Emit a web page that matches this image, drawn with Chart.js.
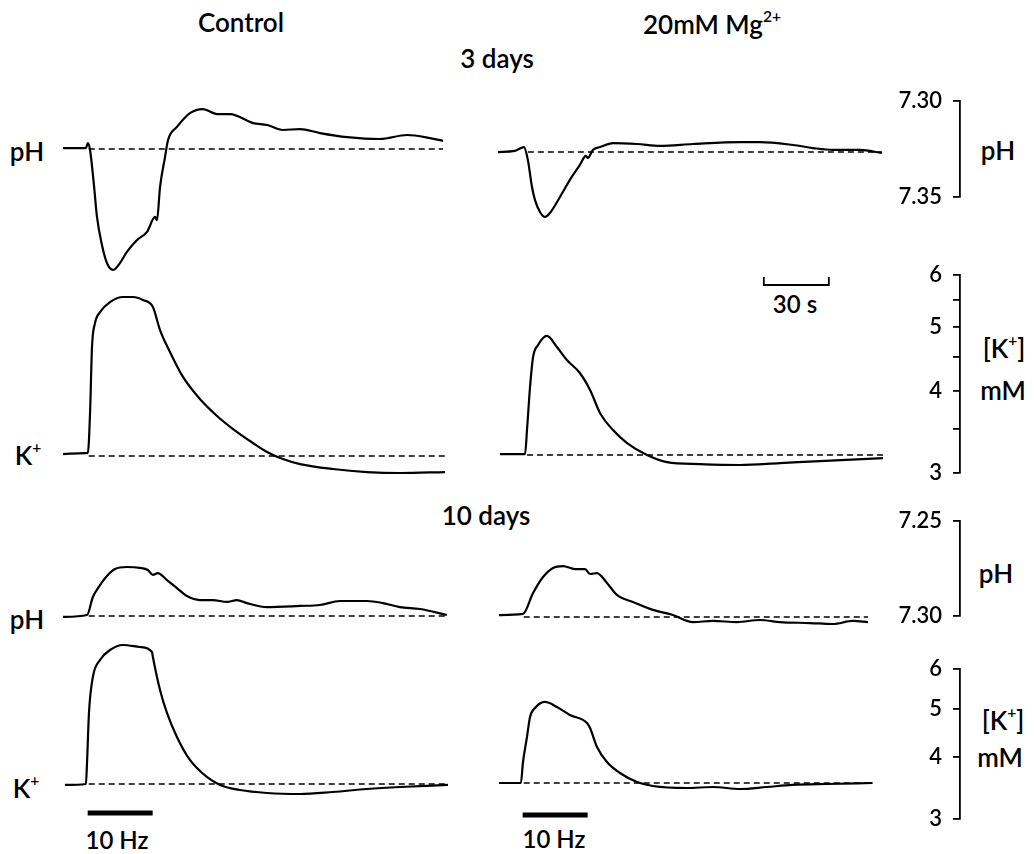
<!DOCTYPE html>
<html lang="en">
<head>
  <meta charset="UTF-8">
  <title>pH and K+ transients, control vs 20mM Mg2+</title>
  <script src="https://cdn.jsdelivr.net/npm/chart.js"></script>
  <style>
    body { margin: 0; background: #fff; width: 1034px; height: 854px; position: relative; overflow: hidden;
           font-family: Lato, 'DejaVu Sans', sans-serif; font-weight: 600; color: #000; }
    canvas { position: absolute; }
    .lbl { position: absolute; transform: translate(-50%, -50%); white-space: nowrap; line-height: 1; font-size: 23px; }
    .lbl sup { font-size: 0.6em; vertical-align: 0.75em; line-height: 0; }
    .big { font-size: 26px; }
    .small { font-size: 24px; }
  </style>
</head>
<body>

  <div class="lbl big" style="left:241px;top:22px">Control</div>
  <div class="lbl big" style="left:712px;top:24px">20mM Mg<sup>2+</sup></div>
  <div class="lbl big" style="left:497px;top:58px">3 days</div>
  <div class="lbl big" style="left:486px;top:515px">10 days</div>

  <div class="lbl big" style="left:27px;top:151px">pH</div>
  <div class="lbl big" style="left:28px;top:455px">K<sup>+</sup></div>
  <div class="lbl big" style="left:27px;top:619px">pH</div>
  <div class="lbl big" style="left:26px;top:788px">K<sup>+</sup></div>

  <div class="lbl big" style="left:998px;top:150px">pH</div>
  <div class="lbl big" style="left:1004px;top:348px">[K<sup>+</sup>]</div>
  <div class="lbl big" style="left:1003px;top:390px">mM</div>
  <div class="lbl big" style="left:996px;top:573px">pH</div>
  <div class="lbl big" style="left:1003px;top:720px">[K<sup>+</sup>]</div>
  <div class="lbl big" style="left:1000px;top:757px">mM</div>

  <div class="lbl small" style="left:795px;top:304px">30 s</div>
  <div class="lbl small" style="left:117px;top:840px">10 Hz</div>
  <div class="lbl small" style="left:554px;top:839px">10 Hz</div>

  <script>
    // ---- data (time in s from stimulus onset) ----
    // 3 days, pH
    const ctlPh3T = [-11.4, -3.6, -0.8, 0.1, 1.1, 2.9, 4.3, 6.6, 8.9, 11.7, 14.9, 18.1, 22.8, 27.4, 31.1, 32.0, 33.4, 35.7, 37.1, 41.2, 47.2, 53.2, 59.7, 65.7, 76.3, 82.8, 90.1, 98.0, 107.2, 119.7, 134.9, 147.4, 158.0, 164.0];
    const ctlPh3V = [7.3245, 7.3245, 7.3245, 7.3219, 7.3255, 7.3438, 7.3604, 7.3750, 7.3844, 7.3880, 7.3844, 7.3786, 7.3724, 7.3682, 7.3604, 7.3620, 7.3448, 7.3292, 7.3203, 7.3135, 7.3063, 7.3042, 7.3068, 7.3068, 7.3115, 7.3125, 7.3151, 7.3146, 7.3167, 7.3188, 7.3198, 7.3177, 7.3193, 7.3208];
    const mgPh3T = [-11.4, -3.6, 0.6, 2.4, 4.3, 5.7, 8.0, 10.3, 12.6, 17.2, 21.8, 26.4, 29.2, 30.1, 32.4, 35.7, 41.7, 52.8, 63.4, 78.6, 100.3, 109.5, 124.8, 134.0, 143.2, 155.7, 165.8];
    const mgPh3V = [7.3266, 7.3260, 7.3240, 7.3307, 7.3448, 7.3516, 7.3578, 7.3604, 7.3583, 7.3500, 7.3411, 7.3333, 7.3286, 7.3297, 7.3255, 7.3240, 7.3219, 7.3224, 7.3234, 7.3224, 7.3214, 7.3214, 7.3229, 7.3245, 7.3255, 7.3255, 7.3271];

    // 3 days, [K+] mM
    const ctlK3T = [-11.4, -1.2, 0.1, 1.1, 2.0, 3.4, 5.7, 10.3, 16.3, 20.9, 25.5, 30.1, 33.4, 38.0, 44.0, 51.8, 59.7, 67.1, 76.3, 82.8, 90.1, 98.0, 113.2, 128.9, 144.1, 164.9];
    const ctlK3V = [3.206, 3.217, 3.217, 3.702, 4.664, 5.072, 5.270, 5.458, 5.555, 5.555, 5.498, 5.364, 4.949, 4.582, 4.199, 3.887, 3.663, 3.499, 3.332, 3.229, 3.150, 3.095, 3.042, 3.010, 3.000, 3.010];
    const mgK3T = [-10.5, 1.1, 2.0, 3.4, 4.8, 7.1, 11.2, 15.8, 20.4, 26.4, 31.1, 35.7, 41.7, 48.2, 57.4, 66.6, 81.8, 100.3, 118.7, 137.2, 166.3];
    const mgK3V = [3.206, 3.206, 3.487, 4.054, 4.503, 4.696, 4.847, 4.664, 4.456, 4.258, 4.012, 3.702, 3.487, 3.332, 3.195, 3.117, 3.095, 3.085, 3.106, 3.128, 3.161];

    // 10 days, pH
    const ctlPh10T = [-11.4, -0.3, 2.4, 5.7, 8.9, 12.6, 18.1, 24.1, 27.8, 30.1, 32.4, 36.6, 41.2, 45.8, 51.8, 57.8, 64.3, 68.9, 73.5, 82.8, 98.0, 107.2, 116.4, 128.9, 136.3, 144.1, 153.4, 165.8];
    const ctlPh10V = [7.3005, 7.2995, 7.2900, 7.2837, 7.2789, 7.2753, 7.2742, 7.2747, 7.2758, 7.2784, 7.2774, 7.2811, 7.2853, 7.2895, 7.2916, 7.2916, 7.2926, 7.2916, 7.2932, 7.2953, 7.2947, 7.2942, 7.2921, 7.2921, 7.2932, 7.2953, 7.2963, 7.2995];
    const mgPh10T = [-10.9, 0.1, 4.8, 9.4, 14.0, 18.6, 24.1, 28.8, 31.1, 34.3, 38.9, 43.5, 50.9, 60.1, 69.4, 78.6, 87.8, 98.9, 109.5, 118.7, 132.6, 143.2, 152.4, 159.4];
    const mgPh10V = [7.2995, 7.2989, 7.2879, 7.2795, 7.2747, 7.2737, 7.2753, 7.2753, 7.2779, 7.2774, 7.2826, 7.2889, 7.2926, 7.2968, 7.2995, 7.3032, 7.3026, 7.3032, 7.3021, 7.3032, 7.3037, 7.3042, 7.3026, 7.3032];

    // 10 days, [K+] mM
    const ctlK10T = [-10.5, -0.8, -0.3, 0.6, 2.4, 5.7, 10.3, 16.3, 24.1, 29.7, 30.1, 33.4, 36.6, 41.2, 47.2, 55.0, 61.1, 70.3, 82.8, 98.0, 113.2, 128.9, 144.1, 166.3];
    const ctlK10V = [3.511, 3.527, 3.886, 4.897, 5.782, 6.255, 6.550, 6.704, 6.642, 6.490, 6.342, 5.446, 4.897, 4.384, 3.941, 3.643, 3.511, 3.430, 3.383, 3.367, 3.399, 3.446, 3.478, 3.511];
    const mgK10T = [-10.9, -0.8, 0.1, 2.0, 3.4, 5.7, 10.3, 15.8, 21.8, 29.7, 31.1, 34.3, 38.9, 44.9, 52.8, 60.1, 75.8, 87.8, 100.3, 112.6, 124.6, 140.3, 161.5];
    const mgK10V = [3.543, 3.543, 3.886, 4.384, 4.807, 5.011, 5.152, 5.034, 4.852, 4.675, 4.568, 4.185, 3.904, 3.711, 3.559, 3.494, 3.462, 3.478, 3.446, 3.478, 3.511, 3.527, 3.543];

    // pre-stimulus baselines (dashed): [start, end] times and levels
    const ctlPh3BaseT = [0.5, 164], ctlPh3BaseV = [7.3250, 7.3250];
    const mgPh3BaseT = [2.4, 165.8], mgPh3BaseV = [7.3266, 7.3266];
    const ctlK3BaseT = [0.5, 164.9], ctlK3BaseV = [3.184, 3.184];
    const mgK3BaseT = [2.0, 166.3], mgK3BaseV = [3.195, 3.195];
    const ctlPh10BaseT = [0.5, 165.8], ctlPh10BaseV = [7.3000, 7.3000];
    const mgPh10BaseT = [0.5, 159.4], mgPh10BaseV = [7.3005, 7.3005];
    const ctlK10BaseT = [0.5, 166.3], ctlK10BaseV = [3.527, 3.527];
    const mgK10BaseT = [0.5, 161.5], mgK10BaseV = [3.543, 3.543];

    // 10 Hz stimulus and 30 s calibration bar
    const stimT = [0, 30], stimV = [0, 0];
    const calT = [0, 0, 30, 30], calV = [1, 0, 0, 1];

    // calibration scale ticks
    const phTicks3 = [7.30, 7.35];
    const phTicks10 = [7.25, 7.30];
    const kTicks = [3, 3.5, 4, 4.5, 5, 5.5, 6];

    // ---- layout ----
    Chart.defaults.font.family = "Lato, 'DejaVu Sans', sans-serif";
    Chart.defaults.font.weight = 600;
    Chart.defaults.color = '#000';

    const PX_PER_S = 65 / 30;
    const COL_W = 420, X_MIN = -22;
    const LEFT_COL = 40, RIGHT_COL = 475;

    // pixel position of scale-bar ends
    const ph3Cal = { y0: 101, v0: 7.30, y1: 197, v1: 7.35 };
    const k3Cal = { y0: 275, v0: 6, y1: 473, v1: 3 };
    const ph10Cal = { y0: 521, v0: 7.25, y1: 616, v1: 7.30 };
    const k10Cal = { y0: 669, v0: 6, y1: 819, v1: 3 };

    function makeCanvas(left, top, w, h) {
      const c = document.createElement('canvas');
      c.width = w; c.height = h;
      c.style.left = left + 'px'; c.style.top = top + 'px';
      document.body.appendChild(c);
      return c;
    }

    function pts(t, v) { return t.map((x, i) => ({ x, y: v[i] })); }

    function linAxis(top, h, cal) {
      const k = (cal.v1 - cal.v0) / (cal.y1 - cal.y0);
      return { type: 'linear', reverse: true, min: cal.v0 + (top - cal.y0) * k, max: cal.v0 + (top + h - cal.y0) * k };
    }

    function logAxis(top, h, cal) {
      const k = (Math.log10(cal.v1) - Math.log10(cal.v0)) / (cal.y1 - cal.y0);
      const l0 = Math.log10(cal.v0);
      return { type: 'logarithmic', max: 10 ** (l0 + (top - cal.y0) * k), min: 10 ** (l0 + (top + h - cal.y0) * k) };
    }

    const baseOpts = {
      responsive: false, animation: false, events: [],
      layout: { padding: 0 },
      plugins: { legend: { display: false }, tooltip: { enabled: false } }
    };

    function traceChart(left, top, h, yAxis, t, v, bt, bv) {
      const cv = makeCanvas(left, top, COL_W, h);
      return new Chart(cv, {
        type: 'line',
        data: {
          datasets: [
            { data: pts(bt, bv), borderColor: '#000', borderWidth: 1.4, borderDash: [6, 4], pointRadius: 0 },
            { data: pts(t, v), borderColor: '#000', borderWidth: 2.2, pointRadius: 0, cubicInterpolationMode: 'monotone' }
          ]
        },
        options: Object.assign({}, baseOpts, {
          scales: {
            x: { type: 'linear', display: false, min: X_MIN, max: X_MIN + COL_W / PX_PER_S },
            y: Object.assign({ display: false }, yAxis)
          }
        })
      });
    }

    function calChart(cal, yAxis, ticks, fmt) {
      const pad = 30;
      const cv = makeCanvas(880, cal.y0 - pad, 100, cal.y1 - cal.y0 + 2 * pad);
      return new Chart(cv, {
        type: 'scatter',
        data: { datasets: [] },
        options: Object.assign({}, baseOpts, {
          layout: { padding: { top: pad, bottom: pad, left: 0, right: 0 } },
          scales: {
            x: { display: false, min: 0, max: 1 },
            y: Object.assign({
              position: 'left',
              afterBuildTicks: s => { s.ticks = ticks.map(value => ({ value })); },
              afterFit: s => { s.width = 80; },
              border: { display: true, color: '#000', width: 1.8 },
              grid: { drawOnChartArea: false, drawTicks: true, tickLength: 7, color: '#000', lineWidth: 1.8 },
              ticks: { color: '#000', padding: 11, font: { size: 22 }, callback: fmt }
            }, yAxis)
          }
        })
      });
    }

    function barChart(left, top, w, h, xMin, yMin, yMax, t, v, width) {
      const cv = makeCanvas(left, top, w, h);
      return new Chart(cv, {
        type: 'line',
        data: { datasets: [{ data: pts(t, v), borderColor: '#000', borderWidth: width, pointRadius: 0, borderCapStyle: 'butt' }] },
        options: Object.assign({}, baseOpts, {
          scales: {
            x: { type: 'linear', display: false, min: xMin, max: xMin + w / PX_PER_S },
            y: { display: false, min: yMin, max: yMax }
          }
        })
      });
    }

    // rows of traces
    const ph3Top = 88, ph3H = 200;
    const k3Top = 283, k3H = 205;
    const ph10Top = 540, ph10H = 100;
    const k10Top = 630, k10H = 175;

    traceChart(LEFT_COL, ph3Top, ph3H, linAxis(ph3Top, ph3H, ph3Cal), ctlPh3T, ctlPh3V, ctlPh3BaseT, ctlPh3BaseV);
    traceChart(RIGHT_COL, ph3Top, ph3H, linAxis(ph3Top, ph3H, ph3Cal), mgPh3T, mgPh3V, mgPh3BaseT, mgPh3BaseV);
    traceChart(LEFT_COL, k3Top, k3H, logAxis(k3Top, k3H, k3Cal), ctlK3T, ctlK3V, ctlK3BaseT, ctlK3BaseV);
    traceChart(RIGHT_COL, k3Top, k3H, logAxis(k3Top, k3H, k3Cal), mgK3T, mgK3V, mgK3BaseT, mgK3BaseV);
    traceChart(LEFT_COL, ph10Top, ph10H, linAxis(ph10Top, ph10H, ph10Cal), ctlPh10T, ctlPh10V, ctlPh10BaseT, ctlPh10BaseV);
    traceChart(RIGHT_COL, ph10Top, ph10H, linAxis(ph10Top, ph10H, ph10Cal), mgPh10T, mgPh10V, mgPh10BaseT, mgPh10BaseV);
    traceChart(LEFT_COL, k10Top, k10H, logAxis(k10Top, k10H, k10Cal), ctlK10T, ctlK10V, ctlK10BaseT, ctlK10BaseV);
    traceChart(RIGHT_COL, k10Top, k10H, logAxis(k10Top, k10H, k10Cal), mgK10T, mgK10V, mgK10BaseT, mgK10BaseV);

    // calibration bars on the right
    const phFmt = v => v.toFixed(2);
    const kFmt = v => Number.isInteger(v) ? String(v) : '';
    calChart(ph3Cal, { type: 'linear', reverse: true, min: 7.30, max: 7.35 }, phTicks3, phFmt);
    calChart(k3Cal, { type: 'logarithmic', min: 3, max: 6 }, kTicks, kFmt);
    calChart(ph10Cal, { type: 'linear', reverse: true, min: 7.25, max: 7.30 }, phTicks10, phFmt);
    calChart(k10Cal, { type: 'logarithmic', min: 3, max: 6 }, kTicks, kFmt);

    // 30 s bar and stimulus bars
    barChart(753, 271, 90, 16, -5, -0.25, 1.75, calT, calV, 1.8);
    barChart(LEFT_COL, 803, COL_W, 20, X_MIN, -1, 1, stimT, stimV, 5);
    barChart(RIGHT_COL, 805, COL_W, 20, X_MIN, -1, 1, stimT, stimV, 5);
  </script>
</body>
</html>
